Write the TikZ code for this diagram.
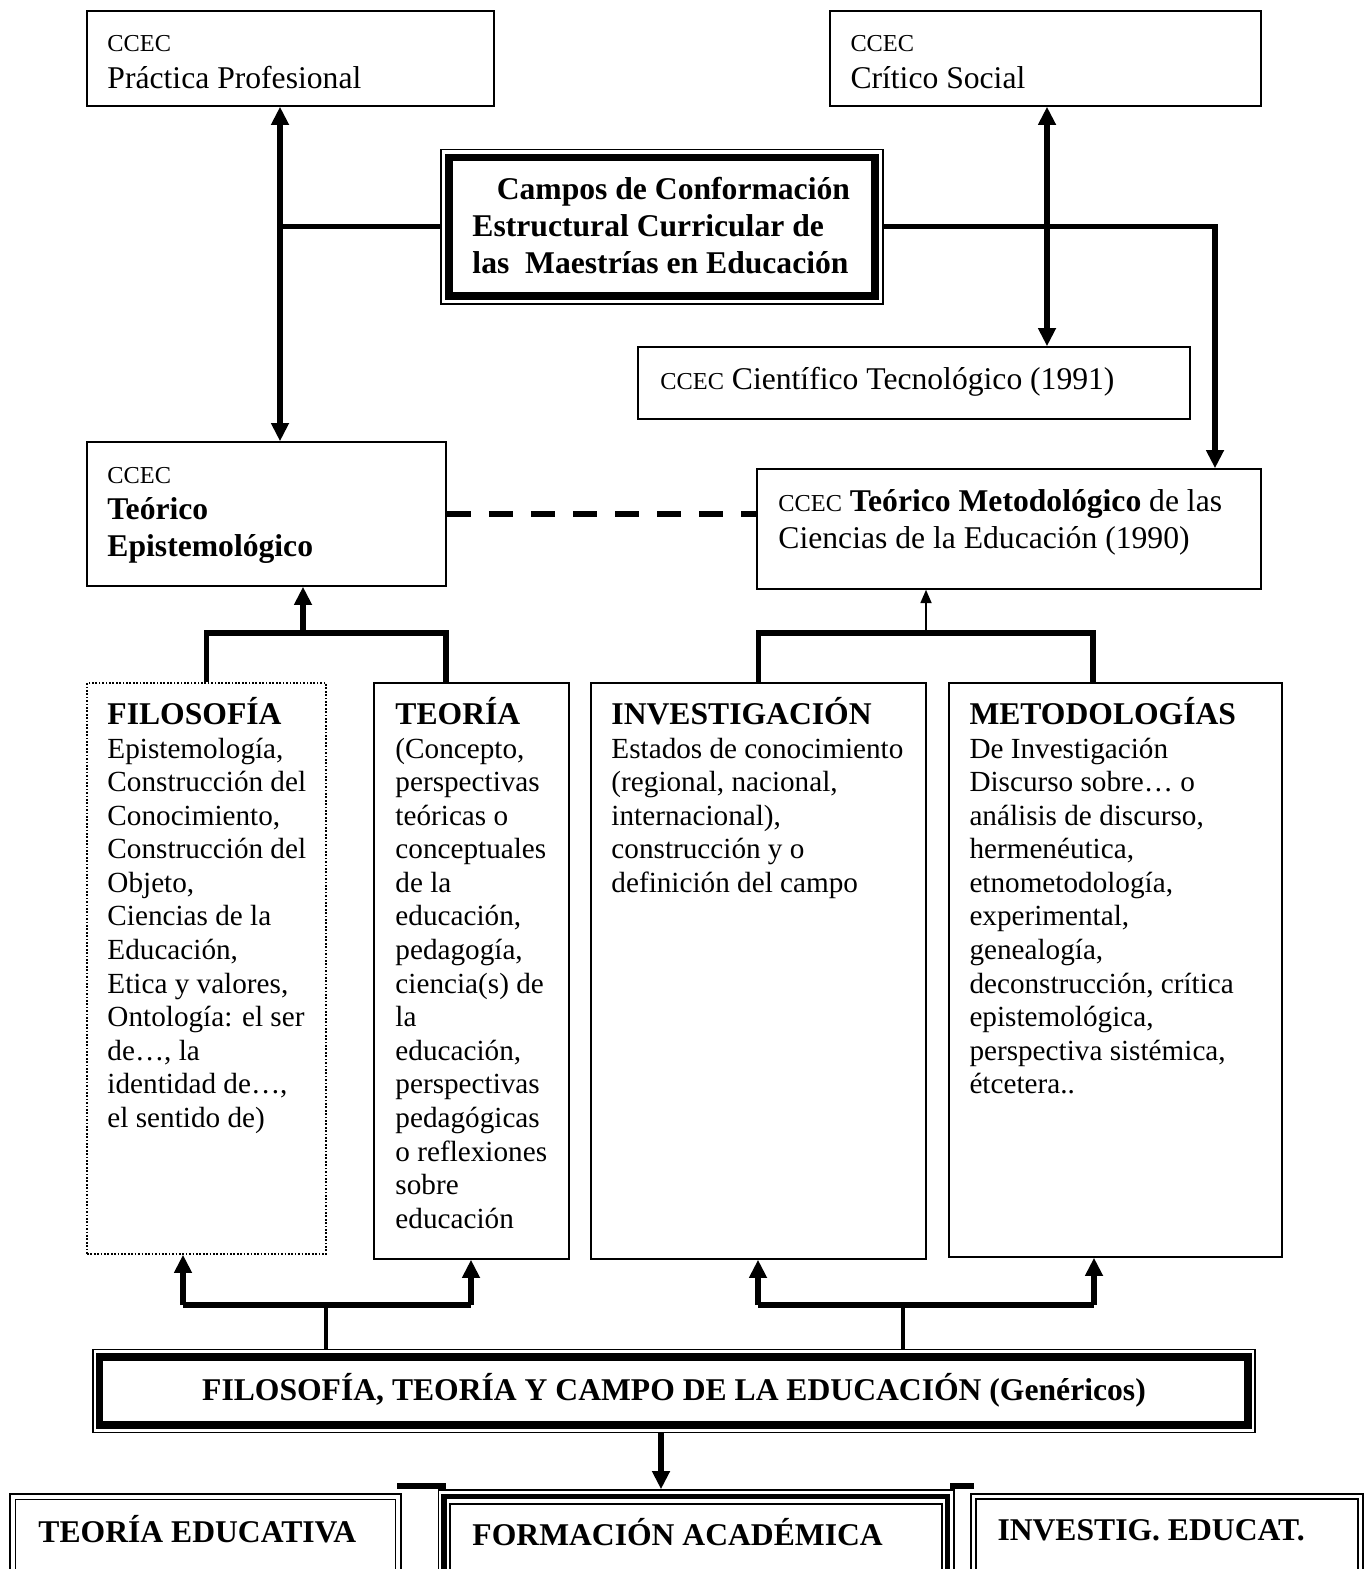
\documentclass[tikz,border=0pt]{standalone}
\usepackage{fontspec}
\setmainfont{Liberation Serif}
\usetikzlibrary{arrows.meta, fit}

\newcommand{\chico}{\fontsize{10}{12}\selectfont}
\newcommand{\medio}{\fontsize{13}{15.2}\selectfont}
\newcommand{\cuerpo}{\fontsize{12}{13.8}\selectfont}

\begin{document}
\begin{tikzpicture}[x=0.411pt,y=-0.411pt,font=\cuerpo,
    >={Triangle[length=7.5pt,width=7pt]},
    caja/.style={draw, line width=0.6pt, inner sep=0pt},
    marco/.style={draw, line width=3pt},
    linea/.style={line width=2.2pt},
    rot/.style={anchor=base west, inner sep=0pt},
    bloque/.style={anchor=north west, inner sep=0pt, align=left}]
    \useasboundingbox (0,0) rectangle (1365,1569);
    \clip (0,0) rectangle (1365,1569);
    \fill[white] (0,0) rectangle (1365,1569);

    % upper fields
    \node[caja, fit={(87,11) (494,106)}] (pp) {};
    \node[rot, font=\chico] (ppa) at (107,52) {CCEC};
    \node[rot, font=\medio] (ppb) at (107,89) {Práctica Profesional};
    \node[caja, fit={(830,11) (1261,106)}] (cs) {};
    \node[rot, font=\chico] (csa) at (850,52) {CCEC};
    \node[rot, font=\medio] (csb) at (850,89) {Crítico Social};

    % central title, thin frame + thick frame
    \node[caja, line width=0.5pt, fit={(441,149.5) (883,304)}] (campos) {};
    \draw[marco] (449,157.5) rectangle (875,296);
    \node[bloque, font=\medio\bfseries] (camposa) at (472,173.1) {\strut\hspace*{10pt}Campos de Conformación\\Estructural Curricular de\\las~~Maestrías en Educación};

    \node[caja, fit={(638,347) (1190,419)}] (ct) {};
    \node[rot, font=\medio] (cta) at (660,390) {{\chico CCEC} Científico Tecnológico (1991)};

    \node[caja, fit={(87,442) (446,586)}] (te) {};
    \node[rot, font=\chico] (tea) at (107,483) {CCEC};
    \node[bloque, font=\medio\bfseries] (teb) at (107,493.1) {\strut Teórico\\Epistemológico};

    \node[caja, fit={(757,469) (1261,589)}] (tm) {};
    \node[bloque, font=\medio] (tma) at (778,485.1) {\strut{\chico CCEC} \textbf{Teórico Metodológico} de las\\Ciencias de la Educación (1990)};

    % four content boxes
    \node[caja, dash pattern=on 0.7pt off 0.7pt, fit={(87,683) (326,1254)}] (fil) {};
    \node[caja, fit={(374,683) (569,1259)}] (teo) {};
    \node[caja, fit={(591,683) (926,1259)}] (inv) {};
    \node[caja, fit={(949,683) (1282,1257)}] (met) {};
    \node[bloque] (filt) at (107,700.5) {\strut\smash{\medio\bfseries FILOSOFÍA}\\Epistemología,\\Construcción del\\Conocimiento,\\Construcción del\\Objeto,\\Ciencias de la\\Educación,\\Etica y valores,\\Ontología: el ser\\de…, la\\identidad de…,\\el sentido de)};
    \node[bloque] (teot) at (395,700.5) {\strut\smash{\medio\bfseries TEORÍA}\\(Concepto,\\perspectivas\\teóricas o\\conceptuales\\de la\\educación,\\pedagogía,\\ciencia(s) de\\la\\educación,\\perspectivas\\pedagógicas\\o reflexiones\\sobre\\educación};
    \node[bloque] (invt) at (611,700.5) {\strut\smash{\medio\bfseries INVESTIGACIÓN}\\Estados de conocimiento\\(regional, nacional,\\internacional),\\construcción y o\\definición del campo};
    \node[bloque] (mett) at (969,700.5) {\strut\smash{\medio\bfseries METODOLOGÍAS}\\De Investigación\\Discurso sobre… o\\análisis de discurso,\\hermenéutica,\\etnometodología,\\experimental,\\genealogía,\\deconstrucción, crítica\\epistemológica,\\perspectiva sistémica,\\étcetera..};

    % generic box
    \node[caja, line width=0.5pt, fit={(93,1349.5) (1255,1432.5)}] (ftc) {};
    \draw[marco] (99.5,1357) rectangle (1248,1425);
    \node[anchor=base, inner sep=0pt, font=\medio\bfseries] (ftct) at (674,1400) {FILOSOFÍA, TEORÍA Y CAMPO DE LA EDUCACIÓN (Genéricos)};

    % bottom row (runs off the page)
    \node[caja, fit={(10,1494) (401,1600)}] (tedu) {};
    \draw[line width=0.6pt] (15.5,1499.5) rectangle (395.5,1600);
    \node[rot, font=\medio\bfseries] (tedut) at (38,1542) {TEORÍA EDUCATIVA};
    \node[caja, fit={(438.5,1490) (954,1600)}] (fa) {};
    \draw[line width=2.3pt] (444,1496.5) rectangle (947.5,1600);
    \draw[line width=0.6pt] (450,1504) rectangle (942,1600);
    \node[rot, font=\medio\bfseries] (fat) at (472,1545) {FORMACIÓN ACADÉMICA};
    \node[caja, fit={(971,1494) (1363,1600)}] (ie) {};
    \draw[line width=0.6pt] (976,1499) rectangle (1358,1600);
    \node[rot, font=\medio\bfseries] (iet) at (997,1540) {INVESTIG. EDUCAT.};
    \fill (397,1483) rectangle (446,1488.5);
    \fill (950,1483) rectangle (974,1488.5);

    % connectors, top part
    \coordinate (ejeI) at (280,228);
    \coordinate (ejeD) at (1047,228);
    \coordinate (bajada) at (1215,228);
    \draw[linea, <->] (pp.south -| ejeI) -- (te.north -| ejeI);
    \draw[linea] (campos.west) -- (campos.west -| ejeI);
    \draw[linea, <->] (cs.south -| ejeD) -- (ct.north -| ejeD);
    \draw[linea, ->] (campos.east) -| (bajada |- tm.north);
    \draw[line width=2.4pt, dash pattern=on 9.9pt off 7.4pt] (te.east) -- (te.east -| tm.west);

    % connectors, middle part
    \coordinate (uneI) at (303,633);
    \coordinate (codoT) at (446,633);
    \coordinate (uneD) at (926,633);
    \coordinate (codoM) at (1093,633);
    \draw[linea] (fil.north) |- (codoT) -- (codoT |- teo.north);
    \draw[linea, ->] (uneI) -- (uneI |- te.south);
    \draw[linea] (inv.north) |- (codoM) -- (codoM |- met.north);
    \draw[line width=0.8pt, -{Triangle[length=5.5pt,width=4.5pt]}] (uneD) -- (uneD |- tm.south);

    % connectors, lower part
    \coordinate (abI) at (326,1305);
    \coordinate (abD) at (903,1305);
    \coordinate (fuF) at (183,1305);
    \coordinate (fuT) at (471,1305);
    \coordinate (fuI) at (758,1305);
    \coordinate (fuM) at (1094,1305);
    \coordinate (baja) at (661,1432);
    \draw[line width=1.8pt] (abI |- ftc.north) -- (abI);
    \draw[line width=1.8pt] (abD |- ftc.north) -- (abD);
    \draw[linea] (fuF) -- (fuT);
    \draw[linea] (fuI) -- (fuM);
    \foreach \c/\b in {fuF/fil,fuT/teo,fuI/inv,fuM/met}{
        \draw[linea, ->] (\c) -- (\c |- \b.south);
    }
    \draw[linea, ->] (baja |- ftc.south) -- (baja |- fa.north);
\end{tikzpicture}
\end{document}
